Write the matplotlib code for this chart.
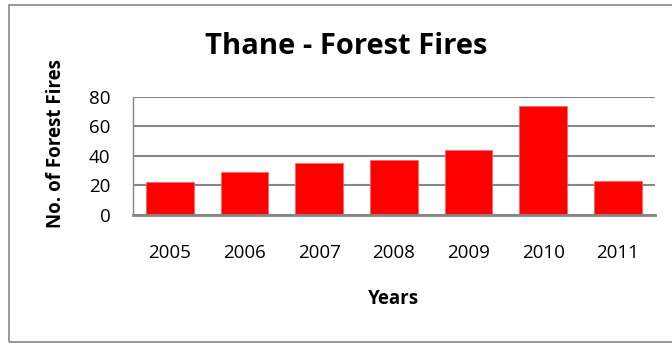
import matplotlib.pyplot as plt
from matplotlib.patches import Rectangle

years = ['2005', '2006', '2007', '2008', '2009', '2010', '2011']
fires = [22, 29, 35, 37, 44, 74, 23]
yticks = [0, 20, 40, 60, 80]

plt.rcParams['font.family'] = ['Open Sans', 'DejaVu Sans']
grey = '#868686'

fig = plt.figure(figsize=(6.72, 3.43), dpi=100)
# outer chart frame (right edge is cut off in the original)
fig.patches.append(Rectangle((9 / 672, 1 - 341.5 / 343), 0.99, (341.5 - 5) / 343,
                             transform=fig.transFigure, fill=False,
                             edgecolor=grey, linewidth=1.2))

ax = fig.add_axes([132.7 / 672, 1 - 214.7 / 343, (655 - 132.7) / 672, (214.7 - 96.7) / 343])
x = range(len(years))
ax.bar(x, fires, width=0.64, color='#ff0000', edgecolor='#ff6060', linewidth=0.5, zorder=3)

ax.set_xlim(-0.5, len(years) - 0.5)
ax.set_ylim(0, 80)
ax.set_yticks(yticks)
ax.set_xticks(list(x))
ax.set_xticklabels(years)
ax.yaxis.grid(True, color=grey, linewidth=1.5, zorder=0)
ax.tick_params(axis='both', length=0, labelsize=13.5, colors='black')
ax.tick_params(axis='x', pad=21)
ax.tick_params(axis='y', pad=16)

for s in ['top', 'right']:
    ax.spines[s].set_visible(False)
ax.spines['left'].set_color(grey)
ax.spines['left'].set_linewidth(1.0)
ax.spines['bottom'].set_color(grey)
ax.spines['bottom'].set_linewidth(2.0)
ax.spines['bottom'].set_zorder(4)

fig.text(346 / 672, 1 - 46 / 343, 'Thane - Forest Fires', ha='center', va='center',
         fontsize=21, fontweight='bold')
fig.text(56 / 672, 1 - 144 / 343, 'No. of Forest Fires', ha='center', va='center',
         rotation=90, fontsize=13.5, fontweight='bold')
fig.text(394 / 672, 1 - 299 / 343, 'Years', ha='center', va='center',
         fontsize=13.5, fontweight='bold')

fig.savefig('out.png', dpi=100)
